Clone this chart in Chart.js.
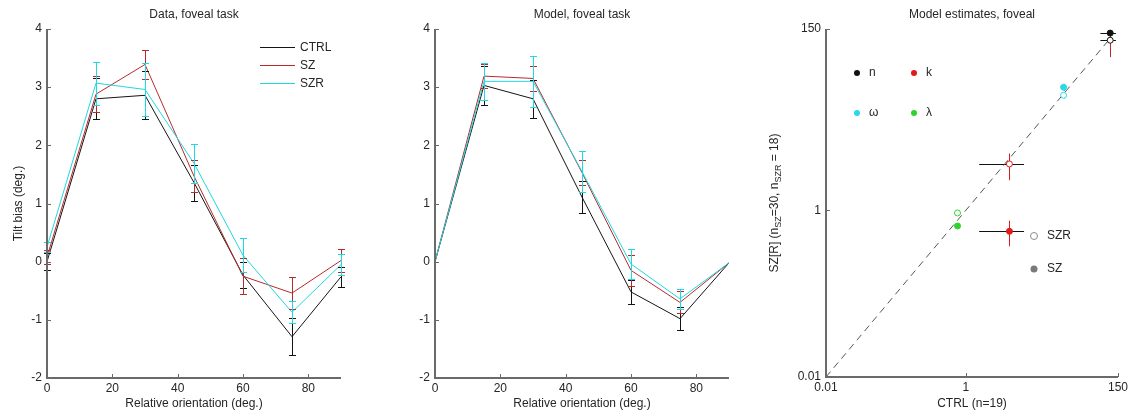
<!DOCTYPE html>
<html>
<head>
<meta charset="utf-8">
<script src="https://cdn.jsdelivr.net/npm/chart.js@4.4.1/dist/chart.umd.min.js"></script>
<style>
  html, body { margin: 0; padding: 0; background: #fff; }
  #wrap { position: relative; width: 1135px; height: 415px; }
  canvas { position: absolute; top: 0; }
</style>
</head>
<body>
<div id="wrap">
  <canvas id="dataChart" width="380" height="415" style="left:0"></canvas>
  <canvas id="modelChart" width="380" height="415" style="left:380px"></canvas>
  <canvas id="estChart" width="375" height="415" style="left:760px"></canvas>
</div>
<script>
'use strict';

/* ---------------------------------------------------------------
   Data
--------------------------------------------------------------- */

const orientations = [0, 15, 30, 45, 60, 75, 90];
const xTickValues = [0, 20, 40, 60, 80];
const yTickValues = [-2, -1, 0, 1, 2, 3, 4];

const groupLabels = ['CTRL', 'SZ', 'SZR'];

// Data, foveal task
const dataCtrl = [0.0, 2.80, 2.86, 1.36, -0.23, -1.29, -0.26];
const dataCtrlErr = [0.15, 0.35, 0.41, 0.31, 0.22, 0.32, 0.17];
const dataSz = [0.08, 2.88, 3.39, 1.47, -0.25, -0.54, 0.02];
const dataSzErr = [0.12, 0.31, 0.25, 0.27, 0.31, 0.28, 0.20];
const dataSzr = [0.25, 3.07, 2.96, 1.69, 0.11, -0.87, -0.05];
const dataSzrErr = [0.08, 0.37, 0.46, 0.34, 0.29, 0.19, 0.18];

// Model, foveal task
const modelCtrl = [0, 3.03, 2.80, 1.11, -0.52, -0.98, -0.02];
const modelCtrlErr = [0, 0.34, 0.33, 0.28, 0.20, 0.20, 0];
const modelSz = [0, 3.19, 3.15, 1.53, -0.15, -0.70, -0.02];
const modelSzErr = [0, 0.20, 0.21, 0.22, 0.27, 0.19, 0];
const modelSzr = [0, 3.10, 3.10, 1.55, -0.04, -0.64, -0.02];
const modelSzrErr = [0, 0.32, 0.44, 0.35, 0.25, 0.17, 0];

// Model estimates (log-log), one entry per parameter
const paramNames = ['n', 'k', 'ω', 'λ'];
const ctrlEst = [116, 4.2, 25, 0.76];
const ctrlLow = [84, 1.55, 23, 0.72];
const ctrlHigh = [140, 6.8, 27, 0.80];
const szEst = [134, 0.56, 30, 0.65];
const szLow = [125, 0.37, 27, 0.61];
const szHigh = [143, 0.75, 33, 0.69];
const szrEst = [110, 3.6, 24, 0.93];
const szrLow = [69, 2.3, 22, 0.88];
const szrHigh = [133, 4.8, 26, 0.98];
const identityLine = [0.01, 110];
const logTickValues = [0.01, 1, 150];

/* ---------------------------------------------------------------
   Styles
--------------------------------------------------------------- */

const FONT = '"Liberation Sans", Arial, Helvetica, sans-serif';
const TEXT = '#262626';
const AXIS_COLOR = '#6a6a6a';
const TICK_LEN = 4;
const groupColors = ['#141414', '#b82a2a', '#1ed8e2'];
const paramColors = ['#111111', '#e01a1a', '#2ad8ea', '#2ed42e'];
const paramVertColors = ['#c02a2a', '#e01a1a', '#2aa8b8', '#1e8f1e'];

Chart.defaults.font.family = FONT;
Chart.defaults.font.size = 12;
Chart.defaults.color = TEXT;

/* ---------------------------------------------------------------
   Plugins
--------------------------------------------------------------- */

// MATLAB-like axes: left + bottom lines, inward ticks
const axesPlugin = {
  id: 'axesLines',
  afterDatasetsDraw(chart) {
    const { ctx, chartArea: a, scales: { x, y } } = chart;
    ctx.save();
    ctx.strokeStyle = AXIS_COLOR;
    ctx.lineWidth = 2;
    ctx.beginPath();
    ctx.moveTo(a.left, a.top);
    ctx.lineTo(a.left, a.bottom);
    ctx.lineTo(a.right, a.bottom);
    ctx.stroke();
    ctx.lineWidth = 1;
    ctx.beginPath();
    x.ticks.forEach((t) => {
      const px = Math.round(x.getPixelForValue(t.value)) + 0.5;
      ctx.moveTo(px, a.bottom);
      ctx.lineTo(px, a.bottom - TICK_LEN);
    });
    y.ticks.forEach((t) => {
      const py = Math.round(y.getPixelForValue(t.value)) + 0.5;
      ctx.moveTo(a.left, py);
      ctx.lineTo(a.left + TICK_LEN, py);
    });
    ctx.stroke();
    ctx.restore();
  }
};

// vertical error bars for the line charts
const errorBarPlugin = {
  id: 'errorBars',
  afterDatasetsDraw(chart) {
    const { ctx, scales: { x, y } } = chart;
    ctx.save();
    ctx.lineWidth = 1;
    chart.data.datasets.forEach((ds) => {
      if (!ds.errors) return;
      ctx.strokeStyle = ds.borderColor;
      ds.data.forEach((p, i) => {
        const e = ds.errors[i];
        if (!e) return;
        const px = Math.round(x.getPixelForValue(p.x)) + 0.5;
        const yTop = Math.round(y.getPixelForValue(p.y + e)) + 0.5;
        const yBot = Math.round(y.getPixelForValue(p.y - e)) + 0.5;
        ctx.beginPath();
        ctx.moveTo(px, yTop); ctx.lineTo(px, yBot);
        ctx.moveTo(px - 3.5, yTop); ctx.lineTo(px + 3.5, yTop);
        ctx.moveTo(px - 3.5, yBot); ctx.lineTo(px + 3.5, yBot);
        ctx.stroke();
      });
    });
    ctx.restore();
  }
};

// titles, axis labels, in-plot legends
const labelsPlugin = {
  id: 'panelLabels',
  afterDraw(chart, args, opts) {
    const { ctx, chartArea: a } = chart;
    const cx = (a.left + a.right) / 2;
    const cy = (a.top + a.bottom) / 2;
    ctx.save();
    ctx.fillStyle = TEXT;
    ctx.font = '12px ' + FONT;
    ctx.textAlign = 'center';
    ctx.textBaseline = 'middle';
    if (opts.title) ctx.fillText(opts.title, cx, 15);
    if (opts.xTitle) ctx.fillText(opts.xTitle, cx, 404);
    if (opts.yTitle) {
      ctx.save();
      ctx.translate(opts.yTitleX, cy);
      ctx.rotate(-Math.PI / 2);
      const parts = opts.yTitle;
      const fontFor = (p) => (p.sub ? '9px ' : '12px ') + FONT;
      let total = 0;
      parts.forEach((p) => { ctx.font = fontFor(p); total += ctx.measureText(p.t).width; });
      let pos = -total / 2;
      ctx.textAlign = 'left';
      parts.forEach((p) => {
        ctx.font = fontFor(p);
        ctx.fillText(p.t, pos, p.sub ? 4 : 0);
        pos += ctx.measureText(p.t).width;
      });
      ctx.restore();
    }
    if (opts.drawLegend) opts.drawLegend(chart, ctx);
    ctx.restore();
  }
};

function drawGroupLegend(chart, ctx) {
  ctx.font = '12px ' + FONT;
  ctx.textAlign = 'left';
  ctx.textBaseline = 'middle';
  groupLabels.forEach((lab, g) => {
    const yy = 47.5 + g * 18;
    ctx.strokeStyle = groupColors[g];
    ctx.lineWidth = 1;
    ctx.beginPath();
    ctx.moveTo(260, yy); ctx.lineTo(295, yy);
    ctx.stroke();
    ctx.fillStyle = TEXT;
    ctx.fillText(lab, 300, yy);
  });
}

function dot(ctx, x, y, r, fill, stroke) {
  ctx.beginPath();
  ctx.arc(x, y, r, 0, Math.PI * 2);
  if (fill) { ctx.fillStyle = fill; ctx.fill(); }
  if (stroke) { ctx.strokeStyle = stroke; ctx.lineWidth = 1; ctx.stroke(); }
}

function drawParamLegend(chart, ctx) {
  ctx.font = '12px ' + FONT;
  ctx.textAlign = 'left';
  ctx.textBaseline = 'middle';
  const cols = [97, 154];
  const rows = [73, 113];
  paramNames.forEach((name, i) => {
    const lx = cols[i % 2];
    const ly = rows[Math.floor(i / 2)];
    dot(ctx, lx, ly, 3, paramColors[i]);
    ctx.fillStyle = TEXT;
    ctx.fillText(name, lx + 12, ly);
  });
  dot(ctx, 274, 236, 3.5, '#ffffff', '#8a8a8a');
  ctx.fillStyle = TEXT;
  ctx.fillText('SZR', 287, 236);
  dot(ctx, 274, 269, 3.5, '#7a7a7a');
  ctx.fillStyle = TEXT;
  ctx.fillText('SZ', 287, 269);
}

// error crosses for the estimate scatter
const crossPlugin = {
  id: 'estCrosses',
  beforeDatasetsDraw(chart) {
    const { ctx, scales: { x, y } } = chart;
    ctx.save();
    ctx.lineWidth = 1;
    paramNames.forEach((name, i) => {
      [[szEst, szLow, szHigh], [szrEst, szrLow, szrHigh]].forEach(([est, lo, hi]) => {
        const py = Math.round(y.getPixelForValue(est[i])) + 0.5;
        const px = Math.round(x.getPixelForValue(ctrlEst[i])) + 0.5;
        ctx.strokeStyle = '#111';
        ctx.beginPath();
        ctx.moveTo(x.getPixelForValue(ctrlLow[i]), py);
        ctx.lineTo(x.getPixelForValue(ctrlHigh[i]), py);
        ctx.stroke();
        ctx.strokeStyle = paramVertColors[i];
        ctx.beginPath();
        ctx.moveTo(px, y.getPixelForValue(lo[i]));
        ctx.lineTo(px, y.getPixelForValue(hi[i]));
        ctx.stroke();
      });
    });
    ctx.restore();
  }
};

/* ---------------------------------------------------------------
   Charts
--------------------------------------------------------------- */

function tiltChart(id, title, series, errs, yWidth, padRight, yTitle) {
  return new Chart(document.getElementById(id), {
    type: 'line',
    data: {
      datasets: series.map((vals, g) => ({
        label: groupLabels[g],
        data: orientations.map((o, i) => ({ x: o, y: vals[i] })),
        errors: errs[g],
        borderColor: groupColors[g],
        borderWidth: 1,
        pointRadius: 0,
        tension: 0,
        fill: false,
        order: 2 - g
      }))
    },
    options: {
      responsive: false,
      animation: false,
      layout: { padding: { left: 0, top: 29, right: padRight, bottom: 0 } },
      plugins: {
        legend: { display: false },
        tooltip: { enabled: false },
        panelLabels: {
          title: title,
          xTitle: 'Relative orientation (deg.)',
          yTitle: yTitle ? [{ t: yTitle }] : null,
          yTitleX: 19,
          drawLegend: yTitle ? drawGroupLegend : null
        }
      },
      scales: {
        x: {
          type: 'linear', min: 0, max: 90,
          afterBuildTicks: (s) => { s.ticks = xTickValues.map((v) => ({ value: v })); },
          afterFit: (s) => { s.height = 37; },
          grid: { display: false, drawTicks: false },
          border: { display: false },
          ticks: { padding: 3, maxRotation: 0, color: TEXT }
        },
        y: {
          type: 'linear', min: -2, max: 4,
          afterBuildTicks: (s) => { s.ticks = yTickValues.map((v) => ({ value: v })); },
          afterFit: (s) => { s.width = yWidth; },
          grid: { display: false, drawTicks: false },
          border: { display: false },
          ticks: { padding: 5, color: TEXT }
        }
      }
    },
    plugins: [errorBarPlugin, axesPlugin, labelsPlugin]
  });
}

tiltChart('dataChart', 'Data, foveal task',
  [dataCtrl, dataSz, dataSzr], [dataCtrlErr, dataSzErr, dataSzrErr], 47, 39, 'Tilt bias (deg.)');

tiltChart('modelChart', 'Model, foveal task',
  [modelCtrl, modelSz, modelSzr], [modelCtrlErr, modelSzErr, modelSzrErr], 55, 31, null);

const logLabel = (v) => (v === 0.01 ? '0.01' : String(v));

new Chart(document.getElementById('estChart'), {
  type: 'scatter',
  data: {
    datasets: [
      {
        label: 'identity',
        type: 'line',
        data: identityLine.map((v) => ({ x: v, y: v })),
        borderColor: '#555555',
        borderWidth: 1,
        borderDash: [7, 5],
        pointRadius: 0,
        order: 3
      },
      {
        label: 'SZR',
        data: paramNames.map((n, i) => ({ x: ctrlEst[i], y: szrEst[i] })),
        pointRadius: 3,
        pointBackgroundColor: '#ffffff',
        pointBorderColor: paramColors,
        pointBorderWidth: 1,
        order: 1
      },
      {
        label: 'SZ',
        data: paramNames.map((n, i) => ({ x: ctrlEst[i], y: szEst[i] })),
        pointRadius: 3,
        pointBackgroundColor: paramColors,
        pointBorderColor: paramColors,
        pointBorderWidth: 1,
        order: 0
      }
    ]
  },
  options: {
    responsive: false,
    animation: false,
    layout: { padding: { left: 0, top: 29, right: 17, bottom: 0 } },
    plugins: {
      legend: { display: false },
      tooltip: { enabled: false },
      panelLabels: {
        title: 'Model estimates, foveal',
        xTitle: 'CTRL (n=19)',
        yTitle: [{ t: 'SZ[R] (n' }, { t: 'SZ', sub: true }, { t: '=30, n' }, { t: 'SZR', sub: true }, { t: ' = 18)' }],
        yTitleX: 15,
        drawLegend: drawParamLegend
      }
    },
    scales: {
      x: {
        type: 'logarithmic', min: 0.01, max: 150,
        afterBuildTicks: (s) => { s.ticks = logTickValues.map((v) => ({ value: v })); },
        afterFit: (s) => { s.height = 38; },
        grid: { display: false, drawTicks: false },
        border: { display: false },
        ticks: { padding: 3, maxRotation: 0, color: TEXT, callback: logLabel }
      },
      y: {
        type: 'logarithmic', min: 0.01, max: 150,
        afterBuildTicks: (s) => { s.ticks = logTickValues.map((v) => ({ value: v })); },
        afterFit: (s) => { s.width = 66; },
        grid: { display: false, drawTicks: false },
        border: { display: false },
        ticks: { padding: 5, color: TEXT, callback: logLabel }
      }
    }
  },
  plugins: [crossPlugin, axesPlugin, labelsPlugin]
});
</script>
</body>
</html>
